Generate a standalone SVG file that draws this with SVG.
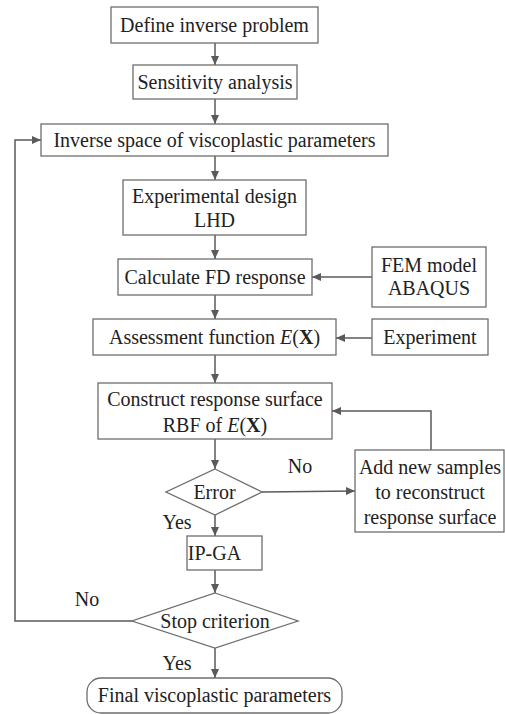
<svg xmlns="http://www.w3.org/2000/svg" width="505" height="714" viewBox="0 0 505 714">
<defs>
<marker id="ah" markerWidth="10" markerHeight="10" refX="9" refY="5" orient="auto" markerUnits="userSpaceOnUse">
<path d="M0,1 L9,5 L0,9 Z" fill="#5a5a5a"/>
</marker>
<style>
.box{fill:#fff;stroke:#6e6e6e;stroke-width:1.3}
.t{font-family:'Liberation Serif','Times New Roman',serif;font-size:20px;fill:#222;text-anchor:middle}
.c2{fill:none;stroke:#5a5a5a;stroke-width:1.5;marker-end:url(#ah)}
</style>
</defs>
<rect width="505" height="714" fill="#fff"/>
<g id="connectors">
<line class="c2" x1="215" y1="43" x2="215" y2="65"/>
<line class="c2" x1="215" y1="99" x2="215" y2="124"/>
<line class="c2" x1="215" y1="156" x2="215" y2="180"/>
<line class="c2" x1="215" y1="235" x2="215" y2="259"/>
<line class="c2" x1="372" y1="277" x2="312" y2="277"/>
<line class="c2" x1="215" y1="295" x2="215" y2="319"/>
<line class="c2" x1="372" y1="338" x2="336" y2="338"/>
<line class="c2" x1="215" y1="355" x2="215" y2="383"/>
<line class="c2" x1="215" y1="439" x2="215" y2="469"/>
<line class="c2" x1="262" y1="492" x2="355" y2="491"/>
<polyline class="c2" points="431,450 431,411 332,411"/>
<line class="c2" x1="215" y1="515" x2="215" y2="536"/>
<line class="c2" x1="215" y1="570" x2="215" y2="593"/>
<line class="c2" x1="215" y1="648" x2="215" y2="678"/>
<polyline class="c2" points="132,621 15,621 15,140 41,140"/>
<text class="t" x="300" y="473">No</text>
<text class="t" x="177" y="529">Yes</text>
<text class="t" x="87" y="606">No</text>
<text class="t" x="177" y="670">Yes</text>
</g>
<g id="define">
<rect class="box" x="111" y="7" width="207" height="36"/>
<text class="t" x="214.5" y="32">Define inverse problem</text>
</g>
<g id="sensitivity">
<rect class="box" x="133" y="65" width="164" height="34"/>
<text class="t" x="215" y="89">Sensitivity analysis</text>
</g>
<g id="inverse-space">
<rect class="box" x="41" y="124" width="347" height="32"/>
<text class="t" x="214.5" y="147">Inverse space of viscoplastic parameters</text>
</g>
<g id="experimental-design">
<rect class="box" x="123" y="180" width="183" height="55"/>
<text class="t" x="214.5" y="203">Experimental design</text>
<text class="t" x="214.5" y="227">LHD</text>
</g>
<g id="calculate">
<rect class="box" x="118" y="259" width="194" height="36"/>
<text class="t" x="215" y="284">Calculate FD response</text>
</g>
<g id="fem">
<rect class="box" x="372" y="247" width="114" height="60"/>
<text class="t" x="429" y="272">FEM model</text>
<text class="t" x="429" y="295">ABAQUS</text>
</g>
<g id="assessment">
<rect class="box" x="93" y="319" width="243" height="36"/>
<text class="t" x="214.5" y="344">Assessment function <tspan font-style="italic">E</tspan>(<tspan font-weight="bold">X</tspan>)</text>
</g>
<g id="experiment">
<rect class="box" x="372" y="319" width="116" height="36"/>
<text class="t" x="430" y="344">Experiment</text>
</g>
<g id="construct">
<rect class="box" x="98" y="383" width="234" height="56"/>
<text class="t" x="215" y="406">Construct response surface</text>
<text class="t" x="215" y="432">RBF of <tspan font-style="italic">E</tspan>(<tspan font-weight="bold">X</tspan>)</text>
</g>
<g id="error">
<polygon class="box" points="215,469 262,492 215,515 166,492"/>
<text class="t" x="214.5" y="499">Error</text>
</g>
<g id="add-samples">
<rect class="box" x="355" y="450" width="149" height="82"/>
<text class="t" x="430" y="474">Add new samples</text>
<text class="t" x="430" y="499">to reconstruct</text>
<text class="t" x="430" y="524">response surface</text>
</g>
<g id="ipga">
<rect class="box" x="187" y="536" width="75" height="34"/>
<text class="t" x="214.5" y="560">IP-GA</text>
</g>
<g id="stop">
<polygon class="box" points="215,593 298,621 215,648 132,621"/>
<text class="t" x="215" y="628">Stop criterion</text>
</g>
<g id="final">
<rect class="box" x="87" y="678" width="255" height="35" rx="14" ry="14"/>
<text class="t" x="214.5" y="702">Final viscoplastic parameters</text>
</g>
</svg>
